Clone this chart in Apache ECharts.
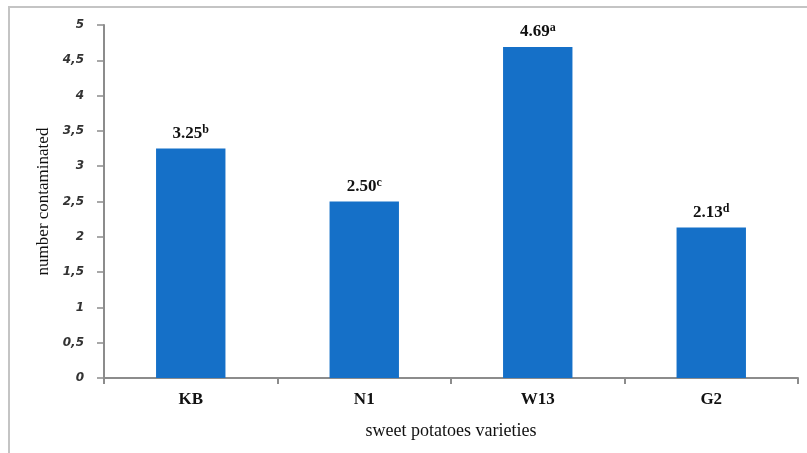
<!DOCTYPE html>
<html>
<head>
<meta charset="utf-8">
<script src="https://cdn.jsdelivr.net/npm/echarts@6/dist/echarts.min.js"></script>
<style>
  html, body { margin: 0; padding: 0; background: #fff; }
  #chart { width: 807px; height: 453px; }
</style>
</head>
<body>
<div id="chart"></div>
<script>
// Sweet potato varieties and mean number of contaminated samples
const categories = ['KB', 'N1', 'W13', 'G2'];
const values = [3.25, 2.50, 4.69, 2.13];
const letters = ['b', 'c', 'a', 'd'];
const yTicks = ['0', '0,5', '1', '1,5', '2', '2,5', '3', '3,5', '4', '4,5', '5'];

const chart = echarts.init(document.getElementById('chart'));

const option = {
  animation: false,
  backgroundColor: '#fff',
  graphic: [{
    type: 'rect',
    shape: { x: 9, y: 7, width: 900, height: 600 },
    style: { fill: 'none', stroke: '#c4c4c4', lineWidth: 2 },
    silent: true
  }],
  grid: { left: 104, right: 9, top: 25, bottom: 75 },
  xAxis: {
    type: 'category',
    data: categories,
    name: 'sweet potatoes varieties',
    nameLocation: 'middle',
    nameGap: 44,
    nameTextStyle: { fontFamily: 'Liberation Serif', fontSize: 18, color: '#111' },
    axisLine: { lineStyle: { color: '#8c8c8c', width: 2 } },
    axisTick: { show: true, length: 6, lineStyle: { color: '#8c8c8c', width: 2 } },
    axisLabel: { fontFamily: 'Liberation Serif', fontWeight: 'bold', fontSize: 17, color: '#111', margin: 13 }
  },
  yAxis: {
    type: 'value',
    min: 0,
    max: 5,
    interval: 0.5,
    name: 'number contaminated',
    nameLocation: 'middle',
    nameGap: 51,
    nameTextStyle: { fontFamily: 'Liberation Serif', fontSize: 17, color: '#111' },
    splitLine: { show: false },
    axisLine: { show: true, lineStyle: { color: '#8c8c8c', width: 2 } },
    axisTick: { show: true, length: 7, lineStyle: { color: '#8c8c8c', width: 1.5 } },
    axisLabel: {
      fontFamily: 'DejaVu Sans',
      fontStyle: 'italic',
      fontWeight: 'bold',
      fontSize: 12,
      color: '#333',
      margin: 20,
      formatter: function (v) { return yTicks[Math.round(v * 2)]; }
    }
  },
  series: [{
    type: 'bar',
    data: values,
    barWidth: '40%',
    itemStyle: { color: '#1570c8' },
    label: {
      show: true,
      position: 'top',
      distance: 5,
      formatter: function (p) {
        return '{v|' + p.value.toFixed(2) + '}{s|' + letters[p.dataIndex] + '}';
      },
      rich: {
        v: { fontFamily: 'Liberation Serif', fontWeight: 'bold', fontSize: 17, color: '#111' },
        s: { fontFamily: 'Liberation Serif', fontWeight: 'bold', fontSize: 12, color: '#111', padding: [0, 0, 8, 0] }
      }
    }
  }]
};

chart.setOption(option);
</script>
</body>
</html>
